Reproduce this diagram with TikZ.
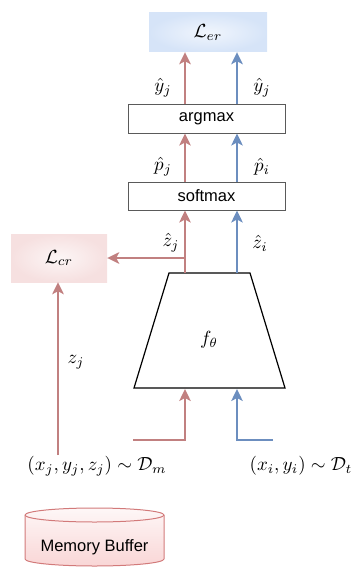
\documentclass[tikz,border=0pt]{standalone}
\usepackage{fontspec}
\setsansfont{Liberation Sans}
\usetikzlibrary{arrows.meta,calc}
\definecolor{redarr}{RGB}{193,128,128}
\definecolor{bluearr}{RGB}{108,142,191}
\definecolor{boxgray}{RGB}{90,90,90}
\definecolor{cylfill}{RGB}{249,214,214}
\definecolor{cylline}{RGB}{210,122,122}
\definecolor{lerblue}{RGB}{214,228,248}
\definecolor{lcrpink}{RGB}{246,224,224}
\tikzset{
  tipstyle/.style={-{Stealth[length=12pt,width=11.5pt,inset=3pt]}},
  rarrow/.style={draw=redarr,line width=2.4pt,tipstyle},
  barrow/.style={draw=bluearr,line width=2.4pt,tipstyle},
  rline/.style={draw=redarr,line width=2.4pt},
  bline/.style={draw=bluearr,line width=2.4pt},
  opbox/.style={draw=boxgray,line width=1pt,minimum width=157pt,minimum height=28pt,inner sep=0pt,font=\sffamily\fontsize{16.5}{18}\selectfont},
  lbl/.style={inner sep=0pt,font=\normalsize,scale=1.9}
}
\begin{document}
\begin{tikzpicture}[x=1pt,y=-1pt]
\useasboundingbox (0,0) rectangle (357,567);
% loss boxes
\node[minimum width=118pt,minimum height=39pt,inner sep=0pt,inner color=lerblue!35,outer color=lerblue] (Ler) at (208,32.5) {};
\node[lbl] (Lert) at (Ler) {$\mathcal{L}_{er}$};
\node[minimum width=96pt,minimum height=48pt,inner sep=0pt,inner color=lcrpink!30,outer color=lcrpink] (Lcr) at (59,258) {};
\node[lbl] (Lcrt) at (Lcr) {$\mathcal{L}_{cr}$};
% op boxes
\node[opbox] (argmax) at (206.5,119) {argmax};
\node[opbox] (softmax) at (206.5,196) {softmax};
% trapezoid
\coordinate (ftl) at (169,273);
\coordinate (ftr) at (250,273);
\coordinate (fbr) at (285,388);
\coordinate (fbl) at (134,388);
\draw[black,line width=1.2pt,line join=miter] (ftl) -- (ftr) -- (fbr) -- (fbl) -- cycle;
\node[lbl] (f) at (209,340) {$f_\theta$};
% columns
\coordinate (rx) at (185,0);
\coordinate (bx) at (237,0);
% top arrows
\draw[rarrow] (argmax.north -| rx) -- (Ler.south -| rx);
\draw[barrow] (argmax.north -| bx) -- (Ler.south -| bx);
\draw[rarrow] (softmax.north -| rx) -- (argmax.south -| rx);
\draw[barrow] (softmax.north -| bx) -- (argmax.south -| bx);
\draw[rarrow] (ftl -| rx) -- (softmax.south -| rx);
\draw[barrow] (ftl -| bx) -- (softmax.south -| bx);
\draw[rarrow] (Lcr.east -| rx) -- (Lcr.east);
% labels
\node[lbl] (yj) at (163,88) {$\hat{y}_j$};
\node[lbl] (yi) at (262,88) {$\hat{y}_j$};
\node[lbl] (pj) at (163,167) {$\hat{p}_j$};
\node[lbl] (pi) at (262,167) {$\hat{p}_i$};
\node[lbl] (zj) at (171,243) {$\hat{z}_j$};
\node[lbl] (zi) at (260,243) {$\hat{z}_i$};
\node[lbl] (zjm) at (76,362) {$z_j$};
% inputs
\node[lbl] (Dm) at (97,466) {$(x_j,y_j,z_j)\sim\mathcal{D}_m$};
\node[lbl] (Dt) at (301,466) {$(x_i,y_i)\sim\mathcal{D}_t$};
\coordinate (rin) at (133,440);
\coordinate (bin) at (273,440);
\coordinate (mstart) at (58,455);
\draw[rline] (rin) -- (rin -| rx) -- ($(fbl -| rx)+(0,4)$);
\draw[rarrow] ($(rin -| rx)+(0,1.2)$) -- ($(fbl -| rx)+(0,1)$);
\draw[bline] (bin) -- (bin -| bx) -- ($(fbl -| bx)+(0,4)$);
\draw[barrow] ($(bin -| bx)+(0,1.2)$) -- ($(fbl -| bx)+(0,1)$);
\draw[rarrow] (mstart) -- (Lcr.south -| mstart);
% memory buffer cylinder
\path[top color=cylfill!20,bottom color=cylfill,draw=cylline,line width=1pt]
  (25,515) -- (25,559) arc[start angle=180,end angle=360,x radius=69.5pt,y radius=7pt]
  -- (164,515) arc[start angle=0,end angle=180,x radius=69.5pt,y radius=7pt] -- cycle;
\draw[draw=cylline,line width=1pt] (25,515) arc[start angle=180,end angle=360,x radius=69.5pt,y radius=7pt];
\node[font=\sffamily\fontsize{16.5}{18}\selectfont,inner sep=0pt] (mb) at (94.5,547) {Memory Buffer};
\end{tikzpicture}
\end{document}
